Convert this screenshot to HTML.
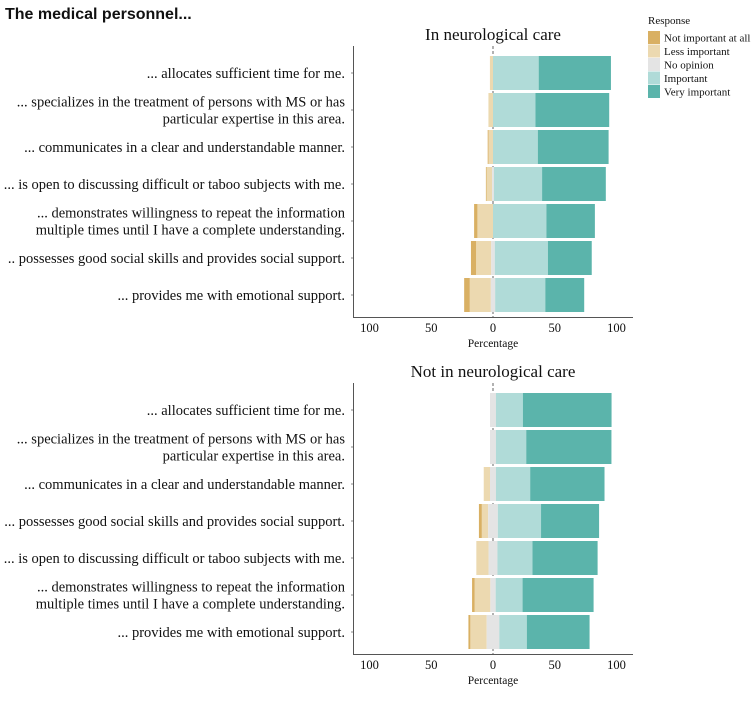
<!DOCTYPE html>
<html><head><meta charset="utf-8">
<style>
body{margin:0;background:#fff;width:755px;height:699px;overflow:hidden}
svg text{font-family:"Liberation Serif",serif;fill:#111}
</style></head><body>
<svg id="c" width="755" height="699">
<text x="5" y="19" font-size="16" font-weight="bold" style="font-family:'Liberation Sans',sans-serif">The medical personnel...</text>
</svg>
<script>
const series = ["Not important at all","Less important","No opinion","Important","Very important"];
const colors = ["#d9b063","#ecd9b0","#e4e4e4","#b0dbd8","#5bb4ab"];
const ticks = [-100,-50,0,50,100];
const tickLabels = ["100","50","0","50","100"];
const topTitle = "In neurological care";
const topLabels = [
 ["... allocates sufficient time for me."],
 ["... specializes in the treatment of persons with MS or has","particular expertise in this area."],
 ["... communicates in a clear and understandable manner."],
 ["... is open to discussing difficult or taboo subjects with me."],
 ["... demonstrates willingness to repeat the information","multiple times until I have a complete understanding."],
 [".. possesses good social skills and provides social support."],
 ["... provides me with emotional support."]
];
const topNI = [0, 0, 0.8, 0.5, 2.7, 4.3, 4.6];
const topLI = [2.5, 3.7, 3.5, 4.5, 12.6, 12.1, 17];
const topNO = [0, 0, 0, 1.5, 0, 2.9, 3.5];
const topIM = [37, 34.4, 36.3, 39, 43.3, 43, 40.6];
const topVI = [58.5, 59.7, 57.3, 51.6, 39.2, 35.5, 31.5];
const botTitle = "Not in neurological care";
const botLabels = [
 ["... allocates sufficient time for me."],
 ["... specializes in the treatment of persons with MS or has","particular expertise in this area."],
 ["... communicates in a clear and understandable manner."],
 ["... possesses good social skills and provides social support."],
 ["... is open to discussing difficult or taboo subjects with me."],
 ["... demonstrates willingness to repeat the information","multiple times until I have a complete understanding."],
 ["... provides me with emotional support."]
];
const botNI = [0, 0, 0, 2.4, 0, 2.2, 1.6];
const botLI = [0, 0, 5.1, 5.1, 9.9, 12.6, 13.2];
const botNO = [4.8, 4.8, 4.8, 7.8, 7.2, 4.3, 10.2];
const botIM = [21.8, 24.5, 27.7, 35, 28.4, 21.8, 22.3];
const botVI = [71.8, 69, 60.2, 47, 52.7, 57.5, 50.8];

const svg = document.getElementById('c');
const NS = "http://www.w3.org/2000/svg";
function mk(tag, attrs, parent){
  const e = document.createElementNS(NS, tag);
  for (const k in attrs) e.setAttribute(k, attrs[k]);
  (parent||svg).appendChild(e);
  return e;
}
const x0 = 493, sc = 1.235;
const xs = v => x0 + v*sc;

function panel(title, labels, NI, LI, NO, IM, VI, top, key){
  const g = mk('g', {});
  
  
  const t = mk('text', {x:493, y:top-8, 'font-size':17, 'text-anchor':'middle'}, g);
  t.textContent = title;
  
  
  const rowTop = top + 8, pitch = 37, bh = 34;
  const axisY = rowTop + pitch*7 + 2;
  const zl = mk('line', {x1:x0, x2:x0, y1:top-2, y2:axisY, stroke:'#666', 'stroke-dasharray':'3,2', 'stroke-width':1}, g);
  
  
  for (let i=0;i<labels.length;i++){
    const y = rowTop + i*pitch;
    const cy = y + bh/2;
    const vals = [NI[i], LI[i], NO[i], IM[i], VI[i]];
    let left = -(NI[i] + LI[i] + NO[i]/2);
    for (let s=0;s<5;s++){
      if (vals[s] <= 0){ continue; }
      const r = mk('rect', {x:xs(left), y:y, width:vals[s]*sc, height:bh, fill:colors[s]}, g);
      
      
      left += vals[s];
    }
    const tk = mk('line', {x1:351, x2:353.5, y1:cy, y2:cy, stroke:'#888'}, g);
    
    
    const lines = labels[i];
    const lt = mk('text', {x:345, y: cy + 5 - (lines.length-1)*8.5, 'font-size':14.5, 'text-anchor':'end'}, g);
    
    
    lines.forEach((ln,j)=>{
      const ts = mk('tspan', {x:345, dy: j===0?0:17}, lt);
      ts.textContent = ln;
    });
  }
  const ax = mk('path', {d:`M353.5 ${top-2} V${axisY+0.5} H633`, fill:'none', stroke:'#555', 'stroke-width':1}, g);
  
  
  ticks.forEach((tv,j)=>{
    const tt = mk('text', {x:xs(tv), y:axisY+15, 'font-size':12.5, 'text-anchor':'middle'}, g);
    tt.textContent = tickLabels[j];
    
    
  });
  const xt = mk('text', {x:x0, y:axisY+30, 'font-size':11.5, 'text-anchor':'middle'}, g);
  xt.textContent = 'Percentage';
  
  
}
panel(topTitle, topLabels, topNI, topLI, topNO, topIM, topVI, 48, 'top');
panel(botTitle, botLabels, botNI, botLI, botNO, botIM, botVI, 385, 'bottom');

const lg = mk('g', {});


const lt = mk('text', {x:648, y:24, 'font-size':11}, lg);
lt.textContent = 'Response';


series.forEach((s,i)=>{
  const y = 31 + i*13.5;
  const r = mk('rect', {x:648, y:y, width:12, height:13, fill:colors[i]}, lg);
  
  
  const t = mk('text', {x:664, y:y+10.5, 'font-size':11}, lg);
  t.textContent = s;
  
  
});
</script>
</body></html>
